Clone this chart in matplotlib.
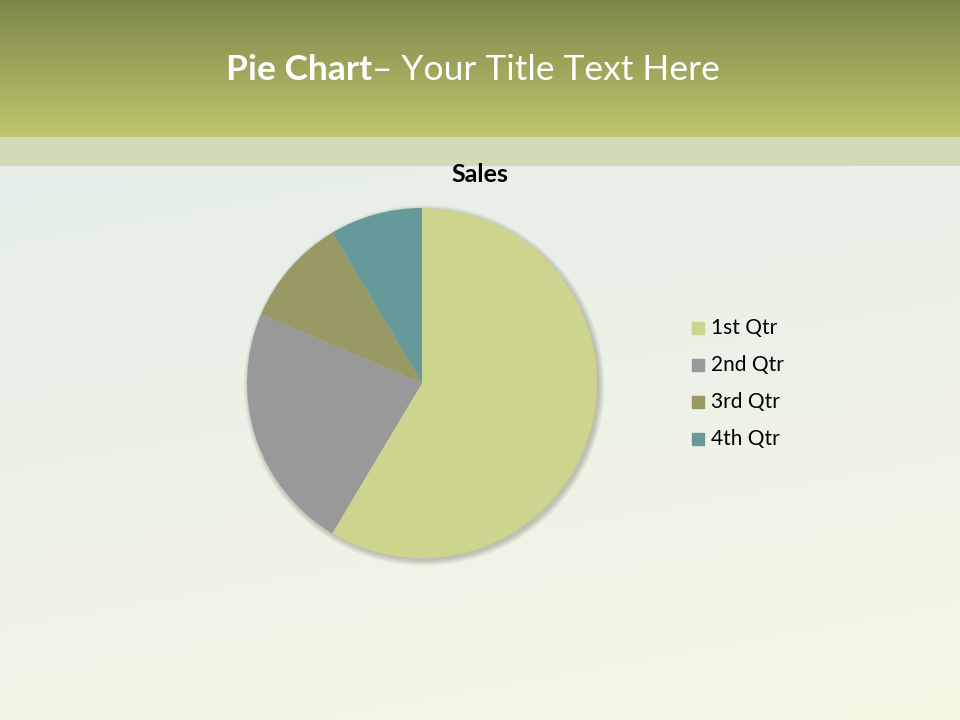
import numpy as np
import matplotlib
matplotlib.use("Agg")
import matplotlib.pyplot as plt
from matplotlib.patches import Rectangle, Circle

plt.rcParams['font.family'] = ['Lato', 'DejaVu Sans']

# data
quarters = ["1st Qtr", "2nd Qtr", "3rd Qtr", "4th Qtr"]
sales = [8.2, 3.2, 1.4, 1.2]
colors = ["#CCD48D", "#999999", "#999966", "#669999"]

W, H = 960, 720
fig = plt.figure(figsize=(9.6, 7.2), dpi=100)

# background slide (header gradient, light band, body gradient)
bg = np.zeros((H, W, 3))
rows = np.arange(H)[:, None]
cols = np.arange(W)[None, :]
top = np.array([0x7E, 0x87, 0x4A]) / 255
bot = np.array([0xBF, 0xC6, 0x6C]) / 255
t = np.clip(rows / 137.0, 0, 1)[..., None]
head = top * (1 - t) + bot * t
body_a = np.array([0xE5, 0xEE, 0xE9]) / 255
body_b = np.array([0xF5, 0xF7, 0xE5]) / 255
s = np.clip(((rows - 166) / 554.0) * 0.8 + (cols / 960.0) * 0.25, 0, 1)[..., None]
body = body_a * (1 - s) + body_b * s
bg[:] = body
bg[:137] = np.broadcast_to(head, (H, W, 3))[:137]
bg[137:166] = np.array([0xD0, 0xDC, 0xB7]) / 255
bax = fig.add_axes([0, 0, 1, 1])
bax.imshow(bg, aspect='auto', extent=[0, W, H, 0])
bax.set_xlim(0, W)
bax.set_ylim(H, 0)
bax.axis('off')

# title in two parts
t1 = fig.text(226 / W, 1 - 70 / H, "Pie Chart", color="white", fontsize=25.5,
              fontweight="bold", va="center", ha="left")
fig.canvas.draw()
bb = t1.get_window_extent()
fig.text(bb.x1 / W, 1 - 70 / H, "\u2013 Your Title Text Here", color="white",
         fontsize=25.5, va="center", ha="left")

fig.text(480 / W, 1 - 175 / H, "Sales", fontsize=18, fontweight="bold",
         ha="center", va="center", color="black")

# pie
cx, cy, r = 422, 383, 175
ax = fig.add_axes([(cx - r) / W, (H - cy - r) / H, 2 * r / W, 2 * r / H])
# soft shadow
for k in range(6):
    ax.add_patch(Circle((0.012, -0.014), 1.0 + 0.006 * k, color="#404030",
                        alpha=0.05, zorder=0, clip_on=False, lw=0))
wedges, _ = ax.pie(sales, colors=colors, startangle=90, counterclock=False,
                   radius=1.0, wedgeprops=dict(linewidth=0))
for w in wedges:
    w.set_zorder(2)
    w.set_clip_on(False)
ax.set_xlim(-1, 1)
ax.set_ylim(-1, 1)
ax.set_aspect('equal')
ax.axis('off')

# legend
for i, (q, c) in enumerate(zip(quarters, colors)):
    y = 328 + i * 37
    bax.add_patch(Rectangle((692, y - 6), 12, 12, color=c))
    bax.text(711, y, q, fontsize=15, va="center", ha="left", color="black")

fig.savefig("out.png", dpi=100)
